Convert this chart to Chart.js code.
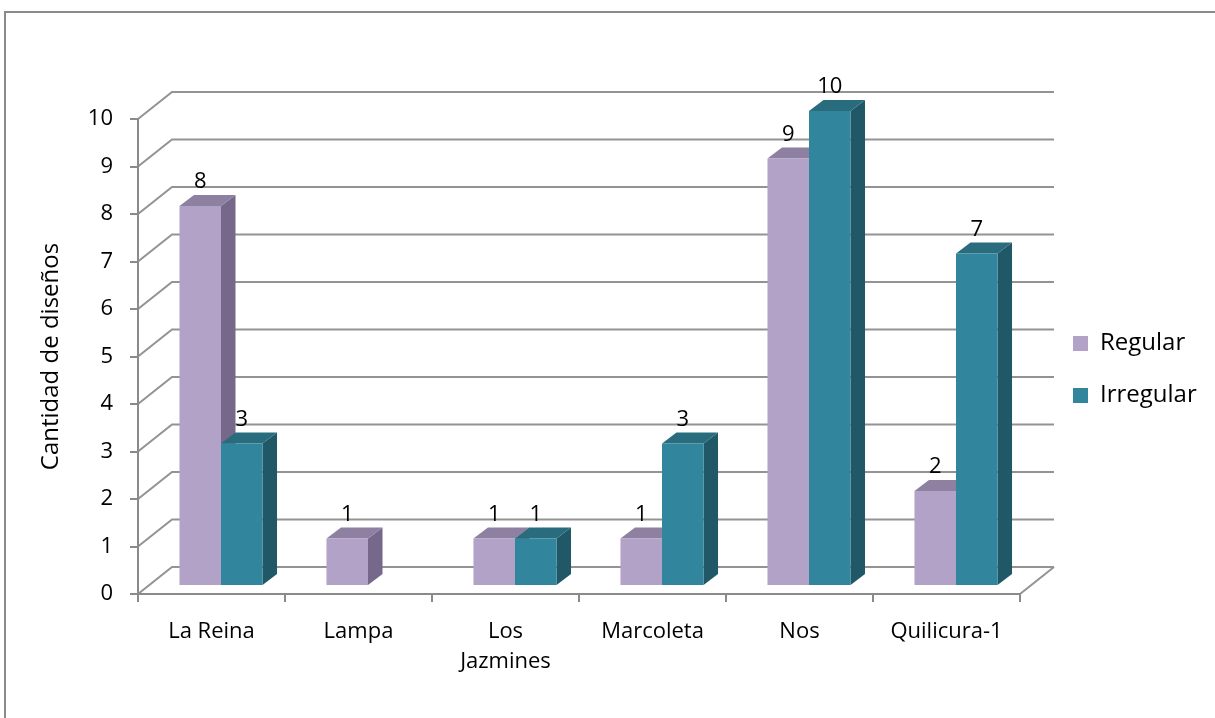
<!DOCTYPE html>
<html>
<head>
<meta charset="utf-8">
<script src="https://cdn.jsdelivr.net/npm/chart.js@4.4.0/dist/chart.umd.min.js"></script>
<style>
  html, body { margin: 0; padding: 0; background: #fff; }
  canvas { display: block; }
</style>
</head>
<body>
<canvas id="myChart" width="1215" height="718"></canvas>
<script>
var categorie = ['La Reina', 'Lampa', ['Los', 'Jazmines'], 'Marcoleta', 'Nos', 'Quilicura-1'];
var regular = [8, 1, 1, 1, 9, 2];
var irregular = [3, null, 1, 3, 10, 7];
var yMin = 0;
var yMax = 10;
var yStep = 1;

var font = '"Open Sans", sans-serif';

// finto 3D: parete di fondo, spessore delle barre
var fondo = { x: 34, y: -27 };
var spostaBarre = { x: 9.5, y: -8 };
var profondita = { x: 14.5, y: -11 };

var colori = [
  { front: '#B3A2C7', side: '#76688A', top: '#8E80A1' },
  { front: '#31859C', side: '#205867', top: '#286C7E' }
];

// legenda a destra: calcolo quanto spazio lasciare
var fontLegenda = 24;
var padLegenda = 52 - fontLegenda;
var misura = document.createElement('canvas').getContext('2d');
misura.font = fontLegenda + 'px ' + font;
var testoMax = Math.max(misura.measureText('Regular').width, misura.measureText('Irregular').width);
var larghezzaLegenda = padLegenda + 15 + fontLegenda / 2 + testoMax + 10;
var padDestra = 1215 - 1020 - larghezzaLegenda;

var pareti = {
  id: 'pareti',
  beforeDraw: function(chart) {
    var ctx = chart.ctx;
    var area = chart.chartArea;
    var y = chart.scales.y;
    ctx.save();
    ctx.fillStyle = '#fff';
    ctx.fillRect(0, 0, chart.width, chart.height);
    ctx.strokeStyle = '#8a8a8a';
    ctx.lineWidth = 2;
    ctx.strokeRect(5, 12, chart.width + 20, chart.height + 20);

    ctx.strokeStyle = '#939393';
    ctx.lineWidth = 2;
    y.ticks.forEach(function(t) {
      var py = y.getPixelForValue(t.value);
      ctx.beginPath();
      ctx.moveTo(area.left, py);
      ctx.lineTo(area.left + fondo.x, py + fondo.y);
      ctx.lineTo(area.right + fondo.x, py + fondo.y);
      ctx.stroke();
    });
    ctx.beginPath();
    ctx.moveTo(area.right, area.bottom);
    ctx.lineTo(area.right + fondo.x, area.bottom + fondo.y);
    ctx.stroke();
    ctx.restore();
  },
  afterLayout: function(chart) {
    // legenda un po' staccata dal grafico e centrata poco sotto la meta'
    var lg = chart.legend;
    var area = chart.chartArea;
    var dx = area.right + 53 - (lg.left + padLegenda);
    var dy = (area.top + area.bottom) / 2 + 13 - (lg.top + lg.bottom) / 2;
    lg.left += dx;
    lg.right += dx;
    lg.top += dy;
    lg.bottom += dy;
  }
};

var barre3d = {
  id: 'barre3d',
  beforeDatasetsDraw: function(chart) {
    var ctx = chart.ctx;
    var etichette = [];
    ctx.save();
    ctx.translate(spostaBarre.x, spostaBarre.y);
    chart.data.datasets.forEach(function(ds, i) {
      var meta = chart.getDatasetMeta(i);
      meta.data.forEach(function(bar, j) {
        if (ds.data[j] == null) return;
        var p = bar.getProps(['x', 'y', 'base', 'width'], true);
        var l = p.x - p.width / 2;
        var r = p.x + p.width / 2;

        ctx.fillStyle = colori[i].side;
        ctx.beginPath();
        ctx.moveTo(r, p.y);
        ctx.lineTo(r + profondita.x, p.y + profondita.y);
        ctx.lineTo(r + profondita.x, p.base + profondita.y);
        ctx.lineTo(r, p.base);
        ctx.closePath();
        ctx.fill();

        ctx.fillStyle = colori[i].top;
        ctx.beginPath();
        ctx.moveTo(l, p.y);
        ctx.lineTo(l + profondita.x, p.y + profondita.y);
        ctx.lineTo(r + profondita.x, p.y + profondita.y);
        ctx.lineTo(r, p.y);
        ctx.closePath();
        ctx.fill();

        bar.draw(ctx);
        etichette.push({ testo: String(ds.data[j]), x: p.x, y: p.y + profondita.y - 7 });
      });
    });

    ctx.fillStyle = '#000';
    ctx.font = '22px ' + font;
    ctx.textAlign = 'center';
    ctx.textBaseline = 'alphabetic';
    etichette.forEach(function(e) {
      ctx.fillText(e.testo, e.x, e.y);
    });
    ctx.restore();
    return false;
  }
};

var ctx = document.getElementById('myChart').getContext('2d');
var chart = new Chart(ctx, {
  type: 'bar',
  data: {
    labels: categorie,
    datasets: [{
      label: 'Regular',
      data: regular,
      backgroundColor: colori[0].front,
      borderWidth: 0,
      categoryPercentage: 0.565,
      barPercentage: 1
    }, {
      label: 'Irregular',
      data: irregular,
      backgroundColor: colori[1].front,
      borderWidth: 0,
      categoryPercentage: 0.565,
      barPercentage: 1
    }]
  },
  options: {
    responsive: false,
    animation: false,
    devicePixelRatio: 1,
    layout: { padding: { top: 119, bottom: 24, left: 0, right: padDestra } },
    scales: {
      x: {
        offset: true,
        ticks: { padding: 14, color: '#000', maxRotation: 0, autoSkip: false, font: { size: 22, family: font, lineHeight: 1.4 } },
        grid: { offset: true, drawOnChartArea: false, tickLength: 8, color: '#8a8a8a', lineWidth: 2 },
        border: { display: true, color: '#8a8a8a', width: 2 },
        afterFit: function(s) { s.height = 100; }
      },
      y: {
        min: yMin,
        max: yMax,
        ticks: { stepSize: yStep, padding: 17, color: '#000', font: { size: 22, family: font } },
        grid: { drawOnChartArea: false, tickLength: 8, color: '#8a8a8a', lineWidth: 2 },
        border: { display: true, color: '#8a8a8a', width: 2 },
        title: { display: true, text: 'Cantidad de diseños', color: '#000', font: { size: 24, family: font }, padding: { top: 37, bottom: 0 } },
        afterFit: function(s) { s.width = 138; }
      }
    },
    plugins: {
      legend: {
        position: 'right',
        labels: { boxWidth: 15, boxHeight: 15, padding: padLegenda, color: '#000', font: { size: fontLegenda, family: font } }
      },
      tooltip: { enabled: false }
    }
  },
  plugins: [pareti, barre3d]
});
</script>
</body>
</html>
